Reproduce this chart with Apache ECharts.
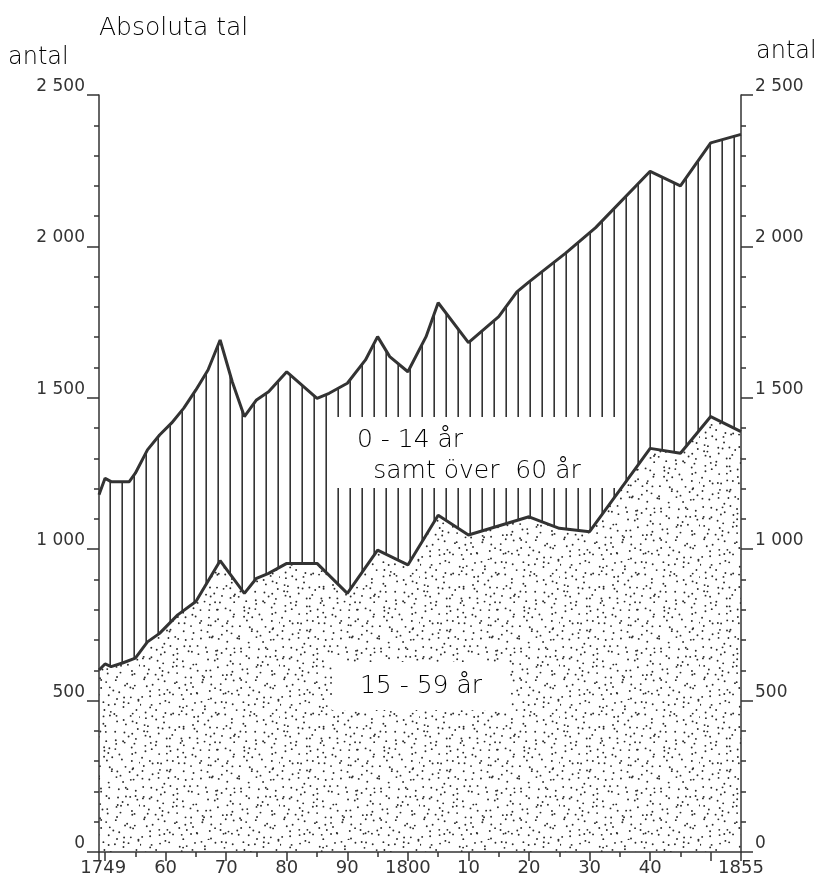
<!DOCTYPE html>
<html>
<head>
<meta charset="utf-8">
<script src="https://cdn.jsdelivr.net/npm/echarts@6/dist/echarts.min.js"></script>
<style>
  html, body { margin: 0; padding: 0; background: #fff; }
  #chart { width: 829px; height: 891px; }
</style>
</head>
<body>
<div id="chart"></div>
<script>
// totalt antal (övre kurvan)
const totalYears = [1749, 1750, 1751, 1754, 1755, 1757, 1759, 1761, 1763, 1765, 1767, 1769, 1771, 1773, 1775, 1777, 1780,
  1785, 1787, 1790, 1793, 1795, 1797, 1800, 1803, 1805, 1810, 1815, 1818, 1820, 1826, 1831, 1840, 1845, 1850, 1855]
const totalValues = [1180, 1234, 1223, 1223, 1251, 1328, 1377, 1417, 1466, 1526, 1592, 1691, 1553, 1438, 1493, 1520, 1586,
  1498, 1515, 1548, 1625, 1702, 1636, 1586, 1702, 1814, 1682, 1768, 1850, 1883, 1977, 2062, 2248, 2200, 2342, 2370]

// 15 - 59 år (undre kurvan)
const adultYears = [1749, 1750, 1751, 1753, 1755, 1757, 1759, 1762, 1765, 1769, 1773, 1775, 1777, 1780, 1785, 1790,
  1795, 1800, 1805, 1810, 1820, 1825, 1830, 1840, 1845, 1850, 1855]
const adultValues = [601, 621, 612, 625, 640, 694, 722, 783, 827, 962, 854, 904, 920, 953, 953, 854,
  997, 948, 1112, 1047, 1107, 1069, 1058, 1333, 1317, 1438, 1388]

const xMajorTicks = [1749, 1750, 1760, 1770, 1780, 1790, 1800, 1810, 1820, 1830, 1840, 1850, 1855]
const xMinorTicks = [1755, 1765, 1775, 1785, 1795, 1805, 1815, 1825, 1835, 1845]
const xLabelYears = [1749.7, 1760, 1770, 1780, 1790, 1800, 1810, 1820, 1830, 1840, 1855]
const xLabelTexts = ['1749', '60', '70', '80', '90', '1800', '10', '20', '30', '40', '1855']

const yTickValues = [0, 500, 1000, 1500, 2000, 2500]
const yTickLabels = ['0', '500', '1 000', '1 500', '2 000', '2 500']
const yMinorTicks = [100, 200, 300, 400, 600, 700, 800, 900, 1100, 1200, 1300, 1400,
  1600, 1700, 1800, 1900, 2100, 2200, 2300, 2400]

const ink = '#333'
const font = '"DejaVu Sans", sans-serif'

// vertikal skraffering
function hatchPattern() {
  const c = document.createElement('canvas')
  c.width = 12
  c.height = 4
  const ctx = c.getContext('2d')
  ctx.fillStyle = '#fff'
  ctx.fillRect(0, 0, 12, 4)
  ctx.fillStyle = ink
  ctx.fillRect(1.4, 0, 1.6, 4)
  return c
}

// punktraster
function stipplePattern() {
  const size = 140
  const cell = 7
  const c = document.createElement('canvas')
  c.width = size
  c.height = size
  const ctx = c.getContext('2d')
  ctx.fillStyle = '#fff'
  ctx.fillRect(0, 0, size, size)
  ctx.fillStyle = '#2a2a2a'
  let seed = 4711
  const rnd = () => (seed = (seed * 16807) % 2147483647) / 2147483647
  for (let gy = 0; gy < size / cell; gy++) {
    for (let gx = 0; gx < size / cell; gx++) {
      const x = gx * cell + rnd() * cell
      const y = gy * cell + rnd() * cell
      ctx.beginPath()
      ctx.arc(x, y, 0.95, 0, Math.PI * 2)
      ctx.fill()
    }
  }
  return c
}

const yLabel = v => yTickLabels[yTickValues.indexOf(v)] || ''

const chart = echarts.init(document.getElementById('chart'), null, { renderer: 'canvas' })

function yAxisMajor(pos) {
  return {
    type: 'value',
    position: pos,
    min: 0,
    max: 2500,
    interval: 500,
    z: 5,
    axisLine: { show: true, lineStyle: { color: ink, width: 1.5 } },
    axisTick: { show: true, inside: false, length: 12, customValues: yTickValues, lineStyle: { color: ink, width: 1.5 } },
    splitLine: { show: false },
    axisLabel: {
      customValues: yTickValues,
      formatter: yLabel,
      verticalAlign: 'bottom',
      margin: 14,
      color: '#333',
      fontSize: 17,
      fontFamily: font
    }
  }
}

function yAxisMinor(pos) {
  return {
    type: 'value',
    position: pos,
    min: 0,
    max: 2500,
    interval: 500,
    z: 5,
    axisLine: { show: false },
    axisTick: { show: true, inside: false, length: 5, customValues: yMinorTicks, lineStyle: { color: ink, width: 1.5 } },
    axisLabel: { show: false },
    splitLine: { show: false }
  }
}

const bigText = { fontSize: 25, fontWeight: 200, fill: '#000', fontFamily: font }

chart.setOption({
  animation: false,
  backgroundColor: '#fff',
  title: {
    text: 'Absoluta tal',
    left: 94,
    top: 11,
    textStyle: { fontSize: 25, fontWeight: 200, color: '#000', fontFamily: font }
  },
  grid: { left: 99, right: 88, top: 95, bottom: 39 },
  xAxis: [
    {
      type: 'value',
      min: 1749,
      max: 1855,
      z: 5,
      axisLine: { show: true, lineStyle: { color: ink, width: 1.5 } },
      axisTick: { show: true, length: 9, customValues: xMajorTicks, lineStyle: { color: ink, width: 1.5 } },
      axisLabel: {
        customValues: xLabelYears,
        formatter: v => xLabelTexts[xLabelYears.indexOf(v)],
        margin: 7,
        color: '#333',
        fontSize: 18,
        fontFamily: font
      },
      splitLine: { show: false }
    },
    {
      type: 'value',
      min: 1749,
      max: 1855,
      position: 'bottom',
      z: 5,
      axisLine: { show: false },
      axisTick: { show: true, length: 5, customValues: xMinorTicks, lineStyle: { color: ink, width: 1.5 } },
      axisLabel: { show: false },
      splitLine: { show: false }
    }
  ],
  yAxis: [yAxisMajor('left'), yAxisMajor('right'), yAxisMinor('left'), yAxisMinor('right')],
  series: [
    {
      name: '0 - 14 år samt över 60 år',
      type: 'line',
      data: totalYears.map((y, i) => [y, totalValues[i]]),
      symbol: 'none',
      lineStyle: { color: ink, width: 3 },
      areaStyle: { color: { image: hatchPattern(), repeat: 'repeat' }, opacity: 1 }
    },
    {
      name: '15 - 59 år',
      type: 'line',
      data: adultYears.map((y, i) => [y, adultValues[i]]),
      symbol: 'none',
      lineStyle: { color: ink, width: 3 },
      areaStyle: { color: { image: stipplePattern(), repeat: 'repeat' }, opacity: 1 }
    }
  ],
  graphic: [
    { type: 'text', left: 8, top: 46, style: Object.assign({ text: 'antal' }, bigText, { fontSize: 24 }) },
    { type: 'text', left: 756, top: 40, style: Object.assign({ text: 'antal' }, bigText, { fontSize: 24 }) },
    { type: 'rect', z: 10, shape: { x: 327, y: 417, width: 291, height: 71 }, style: { fill: '#fff' } },
    { type: 'text', z: 11, x: 410, y: 440, style: Object.assign({ text: '0 - 14 år', align: 'center', verticalAlign: 'middle' }, bigText) },
    { type: 'text', z: 11, x: 477, y: 471, style: Object.assign({ text: 'samt över  60 år', align: 'center', verticalAlign: 'middle' }, bigText) },
    { type: 'rect', z: 10, shape: { x: 332, y: 662, width: 178, height: 48 }, style: { fill: '#fff' } },
    { type: 'text', z: 11, x: 421, y: 686, style: Object.assign({ text: '15 - 59 år', align: 'center', verticalAlign: 'middle' }, bigText) }
  ]
})
</script>
</body>
</html>
